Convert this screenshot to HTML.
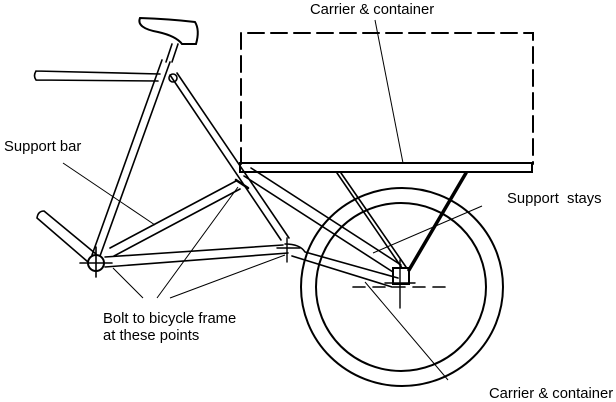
<!DOCTYPE html>
<html><head><style>
body{margin:0;background:#fff;}
svg{display:block;}
text{font-family:"Liberation Sans",sans-serif;font-size:14.8px;fill:#000;}
</style></head><body>
<svg width="616" height="402" viewBox="0 0 616 402" xmlns="http://www.w3.org/2000/svg">
<g fill="none" stroke="#000" stroke-width="1.6" stroke-linecap="round">
<path d="M241 164 L241 33 L533 33 L533 164" stroke-dasharray="16,7" stroke-width="2"/>
<rect x="240" y="163" width="292" height="9" stroke-width="2"/>
<ellipse cx="402" cy="287" rx="101" ry="99" stroke-width="2"/>
<ellipse cx="401" cy="287" rx="85" ry="84" stroke-width="2"/>
<path d="M353 287 L450 287" stroke-dasharray="12,8"/>
<path d="M140 18 Q136 28 158 32 Q176 36 182 44 L196 44 Q200 30 195 22 Q170 19 140 18 Z" stroke-width="2"/>
<path d="M172 44 L166 62 M178 44 L172 62"/>
<path d="M36 71 L160 74 M36 80 L158 81 M36 71 Q33 76 36 80"/>
<path d="M162 60 L92 255 M170 62 L100 256"/>
<path d="M170 75 L281 240 M177 73 L289 238"/>
<circle cx="173" cy="78" r="4"/>
<path d="M110 248 L236 181 M114 256 L240 189"/>
<path d="M37 218 L88 262 M44 211 L96 254 M37 218 Q38 211 44 211"/>
<circle cx="96" cy="263" r="8" stroke-width="2"/>
<path d="M80 263 L112 263 M96 247 L96 277"/>
<path d="M105 257 L283 245 M105 267 L288 253"/>
<path d="M285 244 Q300 244 305 252 L398 278 M292 256 L392 287"/>
<path d="M244 176 L393 272 M251 168 L401 265"/>
<path d="M337 173 L402 268 M341 173 L406 267"/>
<path d="M466 173 L409 270" stroke-width="3.5"/>
<rect x="393" y="268" width="16" height="16" stroke-width="2"/>
<path d="M400 260 L400 308 M385 283 L415 283" stroke-width="1.4"/>
<path d="M287 238 L287 262 M277 248 L300 248" stroke-width="1.4"/>
<path d="M236 180 L248 188" stroke-width="2.5"/>
</g>
<g stroke="#000" stroke-width="1" fill="none">
<path d="M375 20 L403 163"/>
<path d="M63 163 L155 225"/>
<path d="M143 298 L113 268 M157 298 L238 187 M170 298 L285 255"/>
<path d="M482 206 L373 253"/>
<path d="M365 282 L448 380"/>
</g>
<text x="310" y="14">Carrier &amp; container</text>
<text x="4" y="151">Support bar</text>
<text x="507" y="203">Support&#160; stays</text>
<text x="103" y="323">Bolt to bicycle frame</text>
<text x="103" y="340">at these points</text>
<text x="489" y="398">Carrier &amp; container</text>
</svg>
</body></html>
